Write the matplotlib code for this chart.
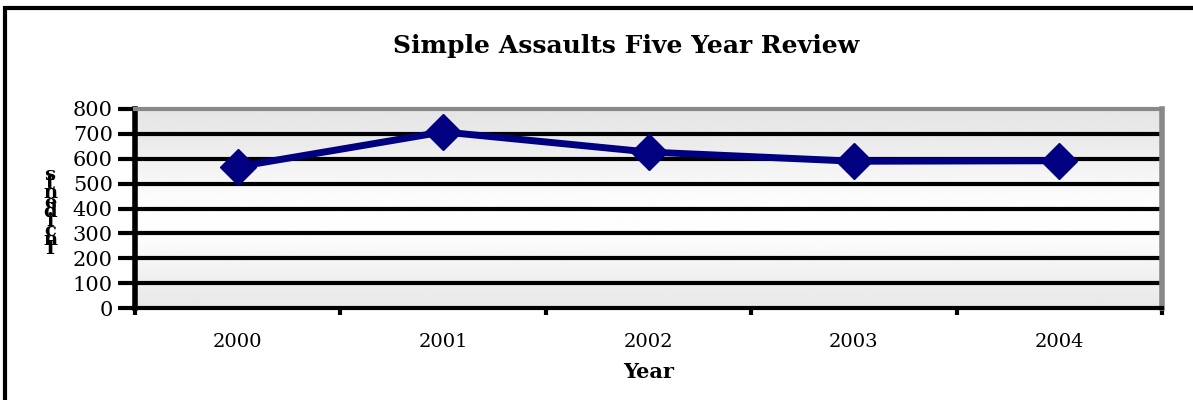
import numpy as np
import matplotlib.pyplot as plt
from matplotlib.patches import Rectangle

years = ["2000", "2001", "2002", "2003", "2004"]
incidents = [568, 708, 627, 590, 592]
y_ticks = [0, 100, 200, 300, 400, 500, 600, 700, 800]

plt.rcParams['font.family'] = ['DejaVu Serif']

fig = plt.figure(figsize=(11.93, 4), dpi=100)

# outer frame (runs off the right and bottom edges)
fig.patches.append(Rectangle((5 / 1193, -0.05), 1.2, 1.03, transform=fig.transFigure,
                             fill=False, edgecolor='black', linewidth=3))

ax = fig.add_axes([135 / 1193, 92 / 400, 1027 / 1193, 199 / 400])
x = np.arange(len(years))
ax.set_xlim(-0.5, len(years) - 0.5)
ax.set_ylim(0, 800)

# grey gradient wall
t = np.linspace(0, 1, 200)
shade = 0.89 + 0.105 * np.exp(-((t - 0.45) / 0.35) ** 2)
ax.imshow(shade[:, None], cmap='gray', vmin=0, vmax=1, aspect='auto',
          extent=(-0.5, len(years) - 0.5, 0, 800), origin='lower', zorder=0)

for v in y_ticks[1:-1]:
    ax.axhline(v, color='black', linewidth=3, zorder=1)

ax.plot(x, incidents, color='#000080', linewidth=5, marker='D', markersize=18,
        zorder=3, clip_on=False)

for side in ['top', 'right']:
    ax.spines[side].set_color('#888888')
ax.spines['top'].set_linewidth(3)
ax.spines['right'].set_linewidth(4)
ax.spines['left'].set_linewidth(4)
ax.spines['bottom'].set_linewidth(3)

ax.set_yticks(y_ticks)
ax.tick_params(axis='y', length=12, width=3, labelsize=15, pad=4)
ax.set_xticks(x)
ax.set_xticklabels(years)
ax.set_xticks(np.arange(-0.5, len(years)), minor=True)
ax.tick_params(axis='x', which='major', length=0, labelsize=14, pad=18)
ax.tick_params(axis='x', which='minor', length=5, width=3)

ax.set_xlabel("Year", fontsize=15, fontweight='bold', labelpad=8)

# stacked y label
fig.text(50 / 1193, 1 - 212 / 400, "s\nt\nn\ne\nd\ni\nc\nn\nI", fontsize=14,
         fontweight='bold', ha='center', va='center', linespacing=0.38)

fig.text(626 / 1193, 1 - 46 / 400, "Simple Assaults Five Year Review",
         fontsize=18, fontweight='bold', ha='center', va='center')

fig.savefig('out.png', dpi=100)
